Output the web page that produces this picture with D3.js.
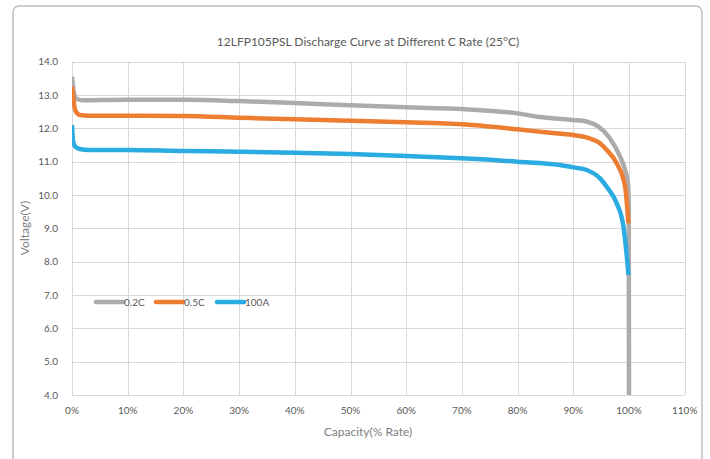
<!DOCTYPE html>
<html>
<head>
<meta charset="utf-8">
<script src="https://cdn.jsdelivr.net/npm/d3@7"></script>
<style>
  body { margin: 0; background: #fff; }
  text { font-family: Lato, "Open Sans", sans-serif; fill: #595959; }
</style>
</head>
<body>
<div id="chart"></div>
<script>
// capacity (% rate) and voltage
var cap02 = [0, 0.3, 0.8, 2, 5, 10, 20, 30, 40, 50, 60, 70, 80, 84, 88, 90, 92.5, 94.5, 96.5, 98.4, 99.3, 99.8, 99.95, 100];
var volt02 = [13.55, 13.1, 12.88, 12.84, 12.85, 12.86, 12.86, 12.82, 12.76, 12.69, 12.63, 12.58, 12.45, 12.34, 12.28, 12.25, 12.2, 12.05, 11.72, 11.15, 10.75, 10.35, 9.8, 4.0];

var cap05 = [0, 0.3, 0.7, 1.4, 3, 10, 20, 30, 40, 50, 60, 70, 80, 85, 90, 92.5, 94.8, 96, 97.8, 99.3, 99.9];
var volt05 = [13.25, 12.8, 12.5, 12.4, 12.38, 12.38, 12.37, 12.32, 12.27, 12.23, 12.18, 12.12, 11.97, 11.88, 11.8, 11.72, 11.55, 11.35, 10.95, 10.25, 9.15];

var cap100 = [0, 0.2, 0.6, 1.4, 3, 10, 20, 30, 40, 50, 60, 70, 80, 87.6, 90, 92.4, 94.8, 96.2, 97.8, 99, 99.8, 99.9];
var volt100 = [12.1, 11.6, 11.45, 11.38, 11.35, 11.35, 11.32, 11.3, 11.27, 11.23, 11.17, 11.1, 11.0, 10.9, 10.83, 10.75, 10.5, 10.2, 9.75, 9.05, 7.8, 7.6];

var seriesNames = ['0.2C', '0.5C', '100A'];
var seriesColors = ['#AEAAAA', '#ED7D31', '#2AABE2'];
var xTicks = [0, 10, 20, 30, 40, 50, 60, 70, 80, 90, 100, 110];
var yTicks = [4, 5, 6, 7, 8, 9, 10, 11, 12, 13, 14];

var series = [
  { name: seriesNames[0], color: seriesColors[0], pts: d3.zip(cap02, volt02) },
  { name: seriesNames[1], color: seriesColors[1], pts: d3.zip(cap05, volt05) },
  { name: seriesNames[2], color: seriesColors[2], pts: d3.zip(cap100, volt100) }
];

var width = 710, height = 459;

var svg = d3.select('#chart').append('svg')
  .attr('width', width)
  .attr('height', height);

// outer chart frame
svg.append('rect')
  .attr('x', 13).attr('y', 6)
  .attr('width', 689).attr('height', 480)
  .attr('rx', 6)
  .style('fill', 'none')
  .style('stroke', '#bfbfbf')
  .style('stroke-width', 1.5);

var x = d3.scaleLinear().domain([0, 110]).range([72, 684.7]);
var y = d3.scaleLinear().domain([4, 14]).range([395, 61.7]);

// grid
svg.append('g').selectAll('line').data(yTicks).enter().append('line')
  .attr('x1', x(0)).attr('x2', x(110))
  .attr('y1', d => Math.round(y(d)) + 0.5).attr('y2', d => Math.round(y(d)) + 0.5)
  .style('stroke', '#d9d9d9');
svg.append('g').selectAll('line').data(xTicks).enter().append('line')
  .attr('x1', d => Math.round(x(d)) + 0.5).attr('x2', d => Math.round(x(d)) + 0.5)
  .attr('y1', y(14)).attr('y2', y(4))
  .style('stroke', '#d9d9d9');

// tick labels
svg.append('g').selectAll('text').data(yTicks).enter().append('text')
  .attr('x', 58).attr('y', d => y(d) + 3.5)
  .attr('text-anchor', 'end')
  .style('font-size', '10px')
  .text(d => d.toFixed(1));
svg.append('g').selectAll('text').data(xTicks).enter().append('text')
  .attr('x', d => x(d)).attr('y', 414)
  .attr('text-anchor', 'middle')
  .style('font-size', '10px')
  .text(d => d + '%');

// titles
svg.append('text')
  .attr('x', 368).attr('y', 46)
  .attr('text-anchor', 'middle')
  .style('font-size', '12px')
  .text('12LFP105PSL Discharge Curve at Different C Rate (25°C)');
svg.append('text')
  .attr('x', 368).attr('y', 436)
  .attr('text-anchor', 'middle')
  .style('font-size', '12px')
  .style('fill', '#808080')
  .text('Capacity(% Rate)');
svg.append('text')
  .attr('transform', 'translate(29,228) rotate(-90)')
  .attr('text-anchor', 'middle')
  .style('font-size', '12px')
  .style('fill', '#808080')
  .text('Voltage(V)');

// curves
svg.append('clipPath').attr('id', 'plotclip').append('rect')
  .attr('x', x(0)).attr('y', y(14) - 5)
  .attr('width', x(110) - x(0)).attr('height', y(4) - y(14) + 5);

var line = d3.line()
  .x(d => x(d[0]))
  .y(d => y(d[1]))
  .curve(d3.curveMonotoneX);

svg.append('g').attr('clip-path', 'url(#plotclip)')
  .selectAll('path').data(series).enter().append('path')
  .attr('d', d => line(d.pts))
  .style('fill', 'none')
  .style('stroke', d => d.color)
  .style('stroke-width', 4.5)
  .style('stroke-linejoin', 'round');

// legend
var legend = svg.append('g').selectAll('g').data(series).enter().append('g')
  .attr('transform', (d, i) => 'translate(' + [96, 156, 217][i] + ',302)');
legend.append('line')
  .attr('x1', 0).attr('x2', 27)
  .style('stroke', d => d.color)
  .style('stroke-width', 4.5)
  .style('stroke-linecap', 'round');
legend.append('text')
  .attr('x', 28).attr('y', 3.5)
  .style('font-size', '10px')
  .text(d => d.name);
</script>
</body>
</html>
